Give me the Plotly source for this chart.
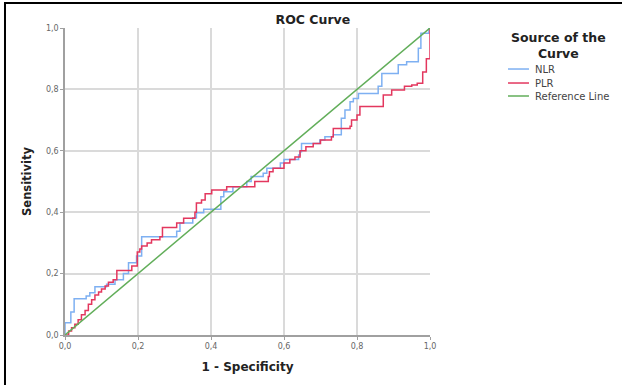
import plotly.graph_objects as go

# NLR step curve: (1 - specificity, sensitivity) corners
nlr_fpr = [0.0, 0.0, 0.016, 0.025, 0.058, 0.068, 0.082, 0.114, 0.137, 0.16, 0.174, 0.196, 0.21,
           0.306, 0.315, 0.35, 0.36, 0.38, 0.427, 0.435, 0.46, 0.498, 0.51, 0.543, 0.553, 0.59,
           0.6, 0.64, 0.644, 0.648, 0.698, 0.712, 0.735, 0.757, 0.767, 0.781, 0.79, 0.804, 0.858,
           0.868, 0.913, 0.936, 0.968, 0.975, 0.997, 1.0]
nlr_tpr = [0.0, 0.04, 0.075, 0.118, 0.127, 0.138, 0.157, 0.165, 0.18, 0.2, 0.235, 0.257, 0.32,
           0.338, 0.365, 0.382, 0.398, 0.41, 0.45, 0.467, 0.483, 0.5, 0.516, 0.527, 0.543, 0.56,
           0.572, 0.586, 0.597, 0.624, 0.635, 0.646, 0.652, 0.706, 0.733, 0.76, 0.77, 0.787, 0.81,
           0.852, 0.88, 0.89, 0.934, 0.983, 1.0, 1.0]

# PLR step curve
plr_fpr = [0.0, 0.01, 0.018, 0.027, 0.036, 0.045, 0.055, 0.064, 0.073, 0.082, 0.092, 0.1, 0.11,
           0.119, 0.132, 0.142, 0.183, 0.198, 0.205, 0.21, 0.225, 0.237, 0.26, 0.267, 0.306,
           0.325, 0.356, 0.36, 0.374, 0.384, 0.402, 0.443, 0.52, 0.557, 0.56, 0.57, 0.6, 0.616,
           0.63, 0.644, 0.66, 0.68, 0.7, 0.73, 0.735, 0.781, 0.785, 0.8, 0.808, 0.872, 0.895,
           0.93, 0.95, 0.965, 0.98, 0.99, 1.0]
plr_tpr = [0.0, 0.013, 0.024, 0.035, 0.05, 0.066, 0.08, 0.1, 0.115, 0.13, 0.14, 0.15, 0.16,
           0.172, 0.18, 0.21, 0.225, 0.27, 0.28, 0.29, 0.3, 0.31, 0.32, 0.35, 0.365,
           0.38, 0.4, 0.43, 0.44, 0.46, 0.472, 0.483, 0.5, 0.516, 0.532, 0.543, 0.56, 0.572,
           0.58, 0.6, 0.613, 0.624, 0.635, 0.646, 0.673, 0.68, 0.7, 0.717, 0.744, 0.782, 0.798,
           0.81, 0.814, 0.82, 0.857, 0.9, 1.0]

ref_x = [0.0, 1.0]
ref_y = [0.0, 1.0]

tick_vals = [0.0, 0.2, 0.4, 0.6, 0.8, 1.0]

series_names = ["NLR", "PLR", "Reference Line"]
legend_title = "Source of the<br>Curve"

BLUE = "#7EB0F2"
RED = "#E3375E"
GREEN = "#62AE5A"
FONT = "DejaVu Sans, Liberation Sans, Arial, sans-serif"
colors = [BLUE, RED, GREEN]

fig = go.Figure()
fig.add_trace(go.Scatter(x=nlr_fpr, y=nlr_tpr, mode="lines", name=series_names[0],
                         line=dict(color=BLUE, width=1.5, shape="hv")))
fig.add_trace(go.Scatter(x=plr_fpr, y=plr_tpr, mode="lines", name=series_names[1],
                         line=dict(color=RED, width=1.5, shape="hv")))
fig.add_trace(go.Scatter(x=ref_x, y=ref_y, mode="lines", name=series_names[2],
                         line=dict(color=GREEN, width=1.5)))

axis_common = dict(
    range=[0, 1], tickvals=tick_vals, tickformat=".1f",
    showgrid=True, gridcolor="#DADADA", gridwidth=1.5,
    showline=True, linecolor="#A0A0A0", linewidth=1.5,
    zeroline=False, ticks="outside", ticklen=3, tickcolor="#A0A0A0",
    tickfont=dict(family=FONT, size=8, color="#666666"),
    mirror=False,
)

# custom legend (compact spacing like the original)
shapes = [dict(type="rect", xref="paper", yref="paper", x0=-0.1644, x1=1.6, y0=-0.2, y1=1.0814,
               line=dict(color="black", width=2), fillcolor="rgba(0,0,0,0)", layer="above")]
annotations = [dict(text="<b>" + legend_title + "</b>", xref="paper", yref="paper",
                    x=1.3534, y=0.9414, xanchor="center", yanchor="middle", showarrow=False,
                    font=dict(family=FONT, size=12.5, color="#222222"), align="center")]
legend_y = [0.8664, 0.8208, 0.7785]
for name, col, ly in zip(series_names, colors, legend_y):
    shapes.append(dict(type="line", xref="paper", yref="paper", x0=1.2137, x1=1.2712,
                       y0=ly, y1=ly, line=dict(color=col, width=1.5)))
    annotations.append(dict(text=name, xref="paper", yref="paper", x=1.2822, y=ly,
                            xanchor="left", yanchor="middle", showarrow=False,
                            font=dict(family=FONT, size=10, color="#444444")))

fig.update_layout(
    width=622, height=385,
    margin=dict(l=65, r=192, t=28, b=50),
    plot_bgcolor="white", paper_bgcolor="white",
    separators=",.",
    showlegend=False,
    title=dict(text="<b>ROC Curve</b>", x=0.503, xanchor="center", y=0.95, yanchor="middle",
               font=dict(family=FONT, size=12.5, color="#222222")),
    xaxis=dict(axis_common, title=dict(text="<b>1 - Specificity</b>", standoff=12,
                                       font=dict(family=FONT, size=12, color="#222222"))),
    yaxis=dict(axis_common, title=dict(text="<b>Sensitivity</b>", standoff=12,
                                       font=dict(family=FONT, size=11.5, color="#222222"))),
    annotations=annotations,
    shapes=shapes,
)

fig.write_html("out.html", config={"displayModeBar": False},
               post_script="document.body.style.margin='0';")
